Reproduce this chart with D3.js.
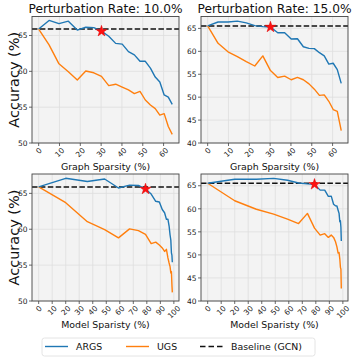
<!DOCTYPE html>
<html><head><meta charset="utf-8">
<script src="https://cdn.jsdelivr.net/npm/d3@7"></script>
<style>body{margin:0;background:#fff}svg{display:block;font-family:"DejaVu Sans",sans-serif}</style>
</head><body><svg id="c" width="357" height="357"></svg>
<script>
// ---- data ----
const graphSparsity = [0, 5, 9.75, 14.26, 18.55, 22.62, 26.49, 30.17, 33.66, 36.98, 40.13, 43.12, 45.96, 48.67, 51.23, 53.67, 55.99, 58.19, 60.28, 62.26, 64.15];
const modelSparsity = [0, 20, 36, 48.8, 59.04, 67.23, 73.79, 79.03, 83.22, 86.58, 89.26, 91.41, 93.13, 94.5, 95.6, 96.48, 97.19, 97.75, 98.2, 98.56, 98.85];
const args10 = [65.9, 67.1, 66.65, 67.0, 65.75, 66.15, 66.1, 65.6, 64.9, 63.9, 63.8, 62.75, 62.3, 61.4, 61.4, 60.45, 59.2, 58.5, 56.7, 56.4, 55.4];
const ugs10  = [65.9, 63.7, 61.05, 59.95, 58.8, 60.05, 59.8, 59.3, 58.0, 58.2, 57.8, 57.4, 56.9, 57.2, 56.0, 55.3, 54.8, 53.9, 54.1, 52.3, 51.2];
const args15 = [65.55, 66.4, 66.4, 66.6, 66.2, 65.6, 65.4, 65.3, 64.05, 64.05, 62.7, 62.75, 61.0, 60.65, 60.6, 59.7, 59.0, 57.2, 57.4, 56.0, 53.0];
const ugs15  = [65.55, 61.75, 59.9, 58.85, 57.75, 56.8, 59.0, 55.8, 54.3, 54.6, 53.8, 54.3, 53.8, 52.9, 51.75, 50.4, 50.5, 49.1, 47.3, 46.9, 42.7];
const baseline10 = 65.9, baseline15 = 65.55;
const starIndex = 7;
const titles = ["Perturbation Rate: 10.0%", "Perturbation Rate: 15.0%"];
const graphTicks = [0, 10, 20, 30, 40, 50, 60];
const modelTicks = [0, 10, 20, 30, 40, 50, 60, 70, 80, 90, 100];
const yTicks10 = [50, 55, 60, 65];
const yTicks15 = [40, 45, 50, 55, 60, 65];
const legendLabels = ["ARGS", "UGS", "Baseline (GCN)"];
const colors = {ARGS: "#1f77b4", UGS: "#ff7f0e"};

const svg = d3.select("#c");
const cols = [[32, 179], [201, 348]];
const rows = [[16.5, 143], [174, 301]];
const panels = [
  {r:0,c:0,x:graphSparsity,xd:[-3.2,67.4],xt:graphTicks,xl:"Graph Sparsity (%)",a:args10,u:ugs10,b:baseline10,yd:[50,67.65],yt:yTicks10,title:titles[0]},
  {r:0,c:1,x:graphSparsity,xd:[-3.2,67.4],xt:graphTicks,xl:"Graph Sparsity (%)",a:args15,u:ugs15,b:baseline15,yd:[40,67.6],yt:yTicks15,title:titles[1]},
  {r:1,c:0,x:modelSparsity,xd:[-4.94,103.8],xt:modelTicks,xl:"Model Sparisty (%)",a:args10,u:ugs10,b:baseline10,yd:[50,67.7],yt:yTicks10},
  {r:1,c:1,x:modelSparsity,xd:[-4.94,103.8],xt:modelTicks,xl:"Model Sparisty (%)",a:args15,u:ugs15,b:baseline15,yd:[40,67.55],yt:yTicks15}
];
const tickFont = 7.5;
panels.forEach(p => {
  const [x0,x1] = cols[p.c], [y0,y1] = rows[p.r];
  const xs = d3.scaleLinear().domain(p.xd).range([x0,x1]);
  const ys = d3.scaleLinear().domain(p.yd).range([y1,y0]);
  const g = svg.append("g");
  g.append("rect").attr("x",x0).attr("y",y0).attr("width",x1-x0).attr("height",y1-y0).attr("fill","#f3f3f3");
  // grid
  g.selectAll(".gx").data(p.xt).join("line").attr("x1",d=>xs(d)).attr("x2",d=>xs(d)).attr("y1",y0).attr("y2",y1).attr("stroke","#dedede").attr("stroke-width",0.8);
  g.selectAll(".gy").data(p.yt).join("line").attr("y1",d=>ys(d)).attr("y2",d=>ys(d)).attr("x1",x0).attr("x2",x1).attr("stroke","#dedede").attr("stroke-width",0.8);
  // baseline
  g.append("line").attr("x1",x0).attr("x2",x1).attr("y1",ys(p.b)).attr("y2",ys(p.b)).attr("stroke","#111").attr("stroke-width",1.5).attr("stroke-dasharray","5.5,2.4");
  const line = d3.line().x((d,i)=>xs(p.x[i])).y(d=>ys(d));
  g.append("path").datum(p.u).attr("d",line).attr("fill","none").attr("stroke",colors.UGS).attr("stroke-width",1.4).attr("stroke-linejoin","round");
  g.append("path").datum(p.a).attr("d",line).attr("fill","none").attr("stroke",colors.ARGS).attr("stroke-width",1.4).attr("stroke-linejoin","round");
  g.append("path").attr("d",d3.symbol(d3.symbolStar,38)()).attr("transform",`translate(${xs(p.x[starIndex])},${ys(p.a[starIndex])})`).attr("fill","#ff1010").attr("stroke","#e00000").attr("stroke-width",0.5);
  // frame
  g.append("rect").attr("x",x0).attr("y",y0).attr("width",x1-x0).attr("height",y1-y0).attr("fill","none").attr("stroke","#444").attr("stroke-width",0.9);
  // y ticks
  p.yt.forEach(v => {
    g.append("line").attr("x1",x0-3).attr("x2",x0).attr("y1",ys(v)).attr("y2",ys(v)).attr("stroke","#444").attr("stroke-width",0.8);
    g.append("text").attr("x",x0-4.5).attr("y",ys(v)).attr("dy","0.36em").attr("text-anchor","end").attr("font-size",tickFont).attr("fill","#222").text(v);
  });
  // x ticks rotated
  p.xt.forEach(v => {
    g.append("line").attr("x1",xs(v)).attr("x2",xs(v)).attr("y1",y1).attr("y2",y1+3).attr("stroke","#444").attr("stroke-width",0.8);
    const w = String(v).length*0.636*tickFont, h = tickFont*0.95;
    const bh = (w+h)*Math.SQRT1_2;
    g.append("text").attr("transform",`translate(${xs(v)},${y1+3.5+bh/2}) rotate(-45)`).attr("text-anchor","middle").attr("dy","0.36em").attr("font-size",tickFont).attr("fill","#222").text(v);
  });
  g.append("text").attr("x",(x0+x1)/2).attr("y",y1+27).attr("text-anchor","middle").attr("font-size",9.4).attr("fill","#111").text(p.xl);
  if (p.title) g.append("text").attr("x",(x0+x1)/2).attr("y",y0-4).attr("text-anchor","middle").attr("font-size",12.2).attr("fill","#111").text(p.title);
  if (p.c===0) g.append("text").attr("transform",`translate(18.5,${(y0+y1)/2}) rotate(-90)`).attr("text-anchor","middle").attr("font-size",14.5).attr("fill","#111").text("Accuracy (%)");
});
// legend
const lg = svg.append("g");
lg.append("rect").attr("x",42).attr("y",338).attr("width",273).attr("height",18).attr("rx",2.5).attr("fill","#fff").attr("stroke","#ddd").attr("stroke-width",0.8);
const items = [
  {label:legendLabels[0], color:colors.ARGS, dash:null, x:45},
  {label:legendLabels[1], color:colors.UGS, dash:null, x:126},
  {label:legendLabels[2], color:"#111", dash:"5.5,3", x:200}
];
items.forEach(it => {
  lg.append("line").attr("x1",it.x).attr("x2",it.x+23).attr("y1",346.5).attr("y2",346.5).attr("stroke",it.color).attr("stroke-width",1.4).attr("stroke-dasharray",it.dash);
  lg.append("text").attr("x",it.x+31).attr("y",346.5).attr("dy","0.36em").attr("font-size",9.4).attr("fill","#111").text(it.label);
});
</script></body></html>
